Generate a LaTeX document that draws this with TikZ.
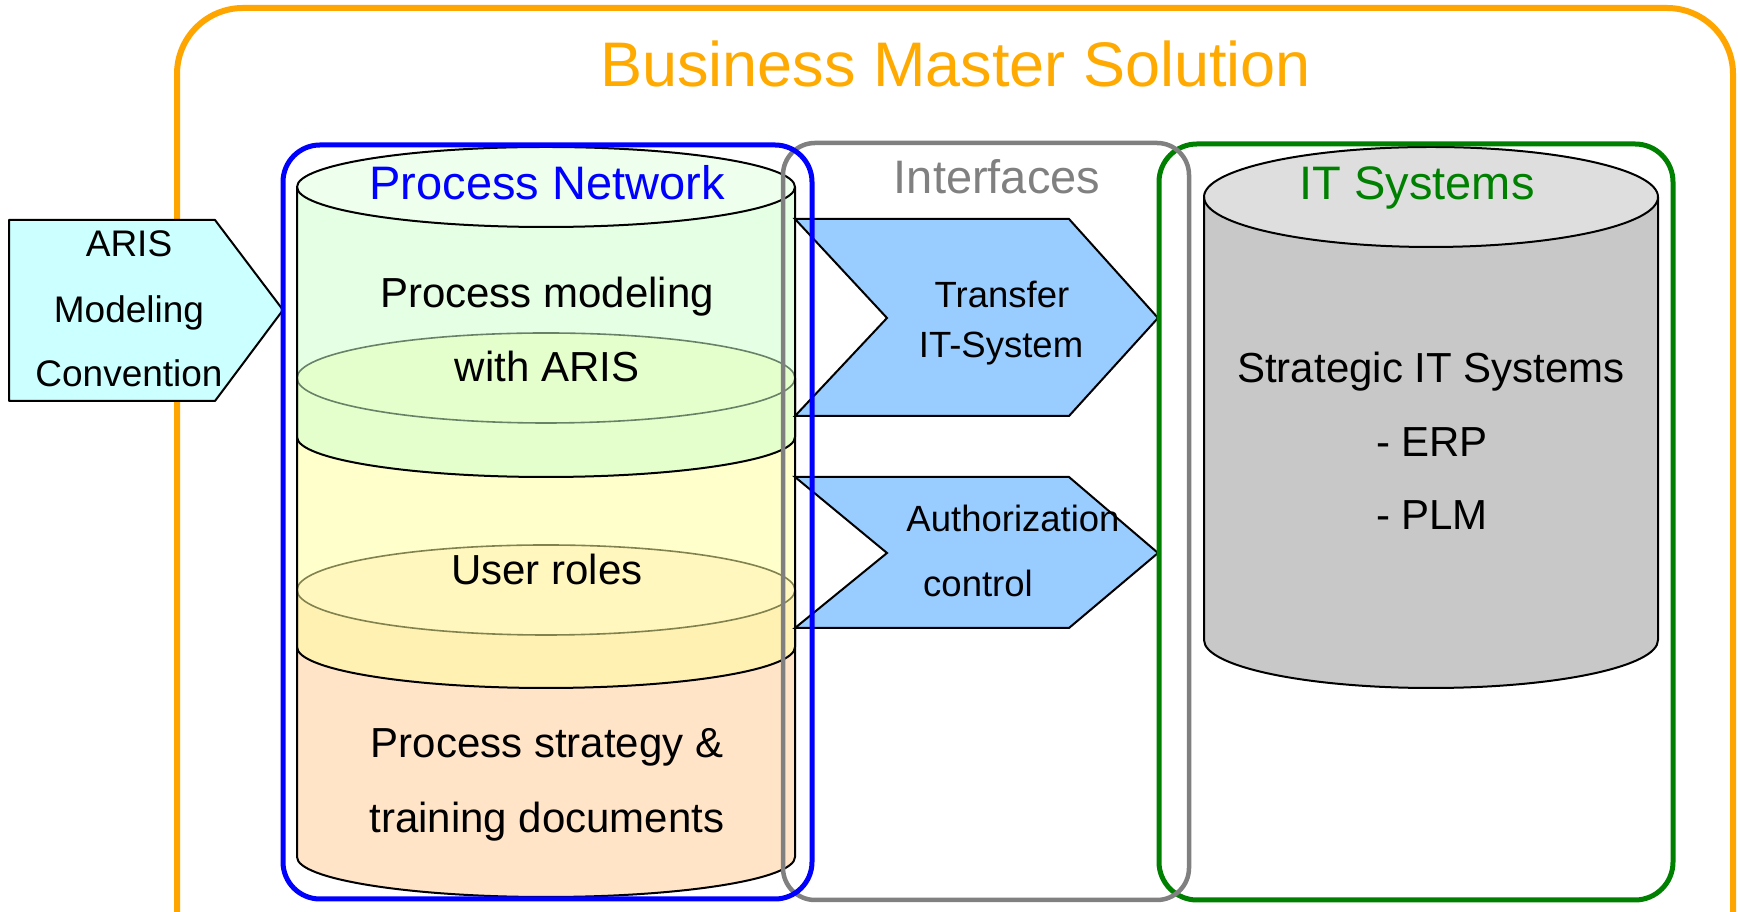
\documentclass[tikz,border=0pt]{standalone}
\usepackage{fontspec}
\setmainfont{Liberation Sans}
\definecolor{cOrange}{RGB}{255,165,0}
\definecolor{cTitle}{RGB}{255,170,0}
\definecolor{cBlue}{RGB}{0,0,255}
\definecolor{cGray}{RGB}{128,128,128}
\definecolor{cGreen}{RGB}{0,128,0}
\definecolor{cCyan}{RGB}{204,255,255}
\definecolor{cChev}{RGB}{153,204,255}
\definecolor{cPeach}{RGB}{255,228,200}
\definecolor{cPeachTop}{RGB}{255,240,225}
\definecolor{cYel}{RGB}{255,255,155}
\definecolor{cGrn}{RGB}{205,255,205}
\definecolor{cGrnTop}{RGB}{238,255,238}
\definecolor{cCylGray}{RGB}{200,200,200}
\definecolor{cCylGrayTop}{RGB}{222,222,222}
\begin{document}
\begin{tikzpicture}[x=1pt,y=1pt,
  every node/.style={inner sep=0pt, outer sep=0pt},
  bigtitle/.style={font=\fontsize{63}{63}\selectfont, text=cTitle, anchor=base},
  heading/.style={font=\fontsize{47}{47}\selectfont, anchor=base},
  bodytxt/.style={font=\fontsize{42}{42}\selectfont, anchor=base},
  arrowtxt/.style={font=\fontsize{36.5}{36.5}\selectfont, anchor=base},
  outl/.style={draw=black, line width=2pt, line join=round},
  innerl/.style={draw=black, line width=1.6pt},
  chevron/.style={draw=black, line width=2pt, fill=cChev, line join=miter},
  framebox/.style={line width=5pt},
]
\useasboundingbox (0,0) rectangle (1738,912);
\clip (0,0) rectangle (1738,912);
\fill[white] (0,0) rectangle (1738,912);

% outer orange frame
\draw[cOrange, line width=6pt, rounded corners=66pt] (177,-80) rectangle (1733,904);

% ARIS arrow
\draw[outl, fill=cCyan] (9,692) -- (215,692) -- (283,602) -- (215,511) -- (9,511) -- cycle;

% peach cylinder
\fill[cPeach] (297,322) -- (297,55) arc[start angle=180,end angle=360,x radius=249,y radius=40] -- (795,322) arc[start angle=0,end angle=180,x radius=249,y radius=45] -- cycle;
\fill[cPeachTop] (546,322) ellipse[x radius=249,y radius=45];
\draw[outl] (297,322) -- (297,55) arc[start angle=180,end angle=360,x radius=249,y radius=40] -- (795,322);
\draw[innerl] (546,322) ellipse[x radius=249,y radius=45];

% yellow cylinder (semi transparent)
\fill[cYel, fill opacity=0.51] (297,534) -- (297,265) arc[start angle=180,end angle=360,x radius=249,y radius=41] -- (795,534) arc[start angle=0,end angle=180,x radius=249,y radius=45] -- cycle;
\draw[outl] (297,534) -- (297,265) arc[start angle=180,end angle=360,x radius=249,y radius=41] -- (795,534);
\draw[innerl] (546,534) ellipse[x radius=249,y radius=45];

% green cylinder (semi transparent)
\fill[cGrn, fill opacity=0.51] (297,725) -- (297,475) arc[start angle=180,end angle=360,x radius=249,y radius=40] -- (795,725) arc[start angle=0,end angle=180,x radius=249,y radius=40] -- cycle;
\fill[cGrnTop] (546,725) ellipse[x radius=249,y radius=40];
\draw[outl] (297,725) -- (297,475) arc[start angle=180,end angle=360,x radius=249,y radius=40] -- (795,725);
\draw[outl] (546,725) ellipse[x radius=249,y radius=40];

% gray cylinder
\fill[cCylGray] (1204,715) -- (1204,272) arc[start angle=180,end angle=360,x radius=227,y radius=48] -- (1658,715) arc[start angle=0,end angle=180,x radius=227,y radius=50] -- cycle;
\fill[cCylGrayTop] (1431,715) ellipse[x radius=227,y radius=50];
\draw[outl] (1204,715) -- (1204,272) arc[start angle=180,end angle=360,x radius=227,y radius=48] -- (1658,715);
\draw[outl] (1431,715) ellipse[x radius=227,y radius=50];

% interface chevrons
\draw[chevron] (795,693) -- (1069,693) -- (1158,594) -- (1069,496) -- (795,496) -- (887,594) -- cycle;
\draw[chevron] (795,435) -- (1069,435) -- (1158,359) -- (1069,284) -- (795,284) -- (887,359) -- cycle;

% frames
\draw[cGreen, framebox, rounded corners=38pt] (1159,12) rectangle (1673,768);
\draw[cGray, line width=4.5pt, rounded corners=32pt] (783,12) rectangle (1189,769);
\draw[cBlue, framebox, rounded corners=37pt] (283,13) rectangle (812,767);

% texts
\node[bigtitle] (title) at (955.5,825) {Business Master Solution};
\node[heading, text=cBlue] (hpn) at (547,712) {Process Network};
\node[heading, text=cGray] (hif) at (997,718) {Interfaces};
\node[heading, text=cGreen] (hit) at (1417,712) {IT Systems};

\node[bodytxt] (pm1) at (547,604) {Process modeling};
\node[bodytxt] (pm2) at (547,530) {with ARIS};
\node[bodytxt] (ur) at (547,327) {User roles};
\node[bodytxt] (ps1) at (547,154) {Process strategy \&};
\node[bodytxt] (ps2) at (547,79) {training documents};

\node[bodytxt] (st1) at (1431,529) {Strategic IT Systems};
\node[bodytxt] (st2) at (1432,455) {- ERP};
\node[bodytxt] (st3) at (1432,382) {- PLM};

\node[arrowtxt] (tr1) at (1002,604) {Transfer};
\node[arrowtxt] (tr2) at (1001,554) {IT-System};
\node[arrowtxt] (au1) at (1013,380) {Authorization};
\node[arrowtxt] (au2) at (978,315) {control};

\node[arrowtxt, font=\fontsize{37}{37}\selectfont] (ar1) at (129,655) {ARIS};
\node[arrowtxt, font=\fontsize{37}{37}\selectfont] (ar2) at (129,589) {Modeling};
\node[arrowtxt, font=\fontsize{37}{37}\selectfont] (ar3) at (129,525) {Convention};
\end{tikzpicture}
\end{document}
